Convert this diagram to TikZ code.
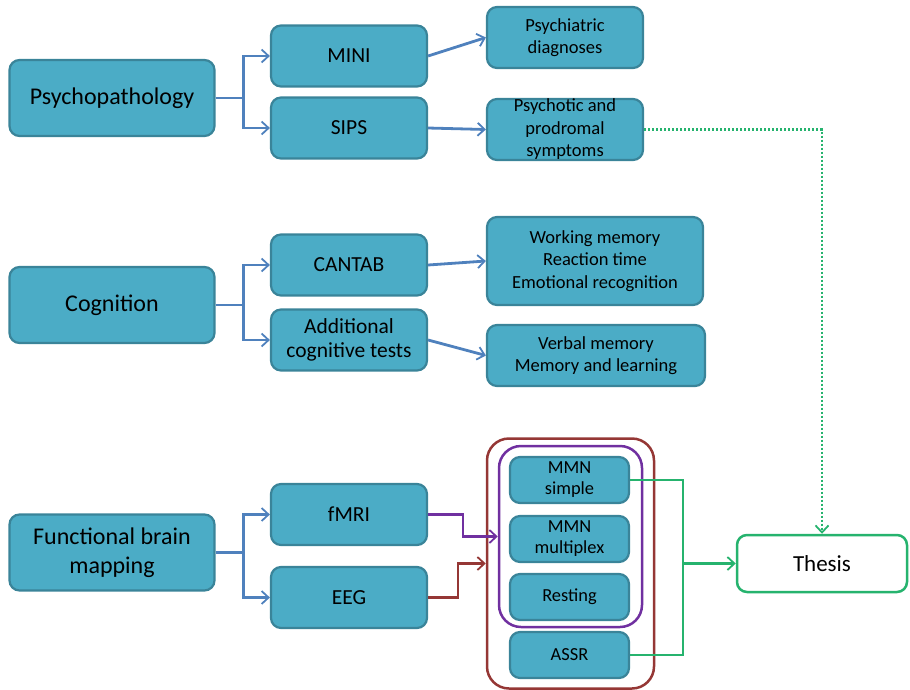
\documentclass[tikz,border=0pt]{standalone}
\usepackage{fontspec}
\setmainfont{Carlito}
\usetikzlibrary{positioning,arrows.meta}
\definecolor{boxfill}{HTML}{4BACC6}
\definecolor{boxline}{HTML}{3A8499}
\definecolor{linkblue}{HTML}{4F81BD}
\definecolor{linkbrown}{HTML}{953735}
\definecolor{linkpurple}{HTML}{7030A0}
\definecolor{linkgreen}{HTML}{26B36E}
\tikzset{
  box/.style = {fill = boxfill, draw = boxline, line width = 2.2pt, rounded corners = 10pt, align = center, inner sep = 0pt},
  topic/.style = {box, minimum width = 205pt, minimum height = 76pt, font = \fontsize{24}{29}\selectfont},
  tool/.style = {box, minimum width = 156pt, minimum height = 61pt, font = \fontsize{21.5}{24}\selectfont},
  result/.style = {box, minimum height = 61pt, font = \fontsize{18.5}{22.5}\selectfont},
  paradigm/.style = {box, minimum width = 119pt, minimum height = 46pt, font = \fontsize{18.4}{21}\selectfont},
  frame/.style = {draw, line width = 2.5pt, rounded corners = 22pt, inner sep = 0pt},
  tip/.style = {-{Straight Barb[length = 7pt, width = 13pt, line width = 1.8pt]}},
  link/.style = {draw = linkblue, line width = 2.3pt, tip},
}
\begin{document}
\begin{tikzpicture}[x = 1pt, y = -1pt]
\useasboundingbox (0,0) rectangle (910,689);
\node[topic] (psycho) at (112,98) {Psychopathology};
\node[tool] (mini) at (349,56) {MINI};
\node[tool] (sips) at (349,128) {SIPS};
\node[result, minimum width = 156pt] (diag) at (565,37.5) {Psychiatric\\diagnoses};
\node[result, minimum width = 156pt] (sympt) at (565,129.5) {Psychotic and\\prodromal\\symptoms};

\node[topic] (cogn) at (112,305) {Cognition};
\node[tool] (cantab) at (349,265) {CANTAB};
\node[tool] (addit) at (349,340) {Additional\\cognitive tests};
\node[result, minimum width = 216pt, minimum height = 88pt] (wmem) at (595,261) {Working memory\\Reaction time\\Emotional recognition};
\node[result, minimum width = 218pt] (verbal) at (596,355.5) {Verbal memory\\Memory and learning};

\node[topic] (brain) at (112,552.5) {Functional brain\\mapping};
\node[tool] (fmri) at (349,514.5) {fMRI};
\node[tool] (eeg) at (349,597.5) {EEG};
\node[frame, draw = linkbrown, minimum width = 167pt, minimum height = 250pt] (eegset) at (570.5,563.5) {};
\node[frame, draw = linkpurple, minimum width = 143pt, minimum height = 181pt] (mmnset) at (570.5,536.5) {};
\node[paradigm] (simple) at (569.5,480) {MMN\\simple};
\node[paradigm] (multi) at (569.5,539) {MMN\\multiplex};
\node[paradigm] (rest) at (569.5,597) {Resting};
\node[paradigm] (assr) at (569.5,655) {ASSR};

\node[box, fill = white, draw = linkgreen, line width = 2.5pt, minimum width = 170pt, minimum height = 57pt, font = \fontsize{23}{26}\selectfont] (thesis) at (822,563.5) {Thesis};

\draw[link] (psycho.east) -- ++(28,0) |- (mini.west);
\draw[link] (psycho.east) -- ++(28,0) |- (sips.west);
\draw[link] (cogn.east) -- ++(28,0) |- (cantab.west);
\draw[link] (cogn.east) -- ++(28,0) |- (addit.west);
\draw[link] (brain.east) -- ++(28,0) |- (fmri.west);
\draw[link] (brain.east) -- ++(28,0) |- (eeg.west);

\draw[link, line width = 2.8pt] (mini.east) -- (diag.west);
\draw[link, line width = 2.8pt] (sips.east) -- (sympt.west);
\draw[link, line width = 2.8pt] (cantab.east) -- (wmem.west);
\draw[link, line width = 2.8pt] (addit.east) -- (verbal.west);

\draw[draw = linkpurple, line width = 2.5pt, tip] (fmri.east) -- ++(35,0) |- (mmnset.west);
\draw[draw = linkbrown, line width = 2.5pt, tip] (eeg.east) -- ++(30,0) |- (eegset.west);

\coordinate (merge) at (683,563.5);
\draw[draw = linkgreen, line width = 2.5pt] (simple.east) -| (merge) |- (assr.east);
\draw[draw = linkgreen, line width = 2.5pt, tip] (merge) -- (thesis.west);
\draw[draw = linkgreen, line width = 2.6pt, dash pattern = on 2pt off 2pt, tip] (sympt.east) -| (thesis.north);
\end{tikzpicture}
\end{document}
